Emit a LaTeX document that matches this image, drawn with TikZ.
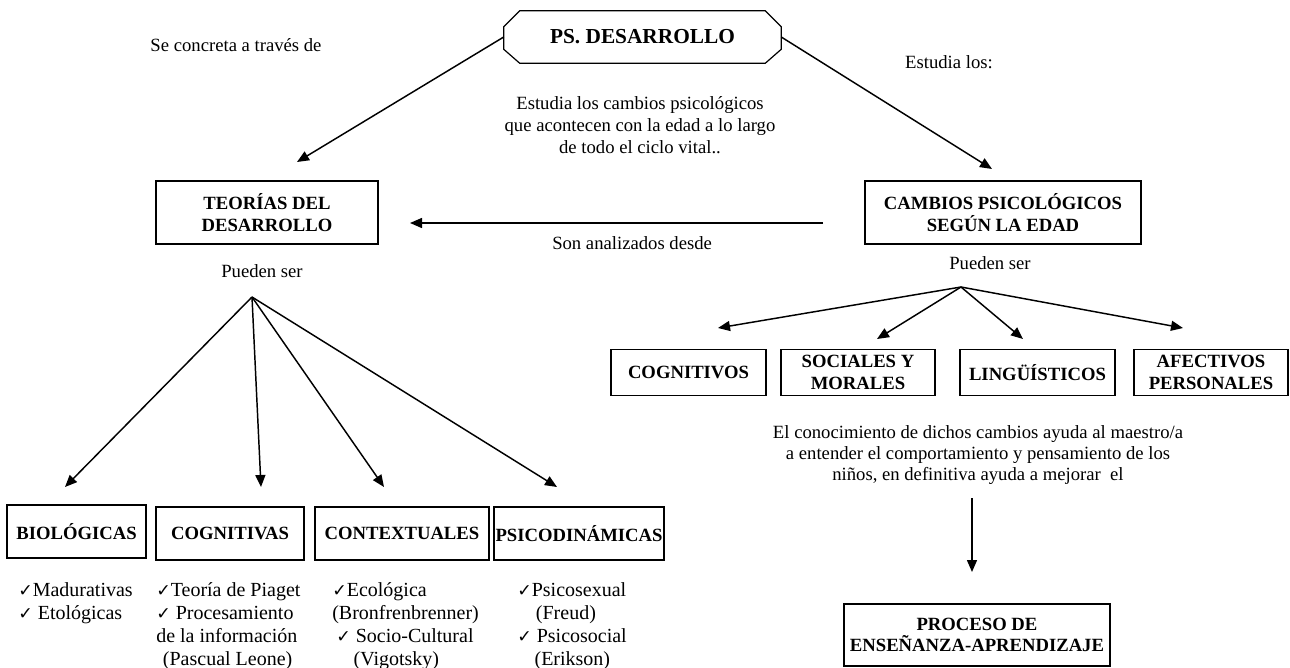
\documentclass[tikz,border=0pt]{standalone}
\usepackage{fontspec}
\setmainfont{Liberation Serif}
\newfontfamily\ckfont{DejaVu Sans}
\usetikzlibrary{arrows.meta,calc}
\newcommand{\ck}{{\ckfont\fontsize{13}{13}\selectfont ✓}}
\begin{document}
\begin{tikzpicture}[x=0.75pt,y=-0.75pt,
  wh/.style 2 args={minimum width=#1*0.75pt, minimum height=#2*0.75pt},
  box/.style={draw,line width=0.9pt,inner sep=0pt,align=center,font=\fontsize{14}{16}\selectfont\bfseries},
  lbl/.style={inner sep=0pt,align=center,font=\fontsize{14}{16.5}\selectfont},
  lst/.style={inner sep=0pt,align=left,anchor=north west,font=\fontsize{15}{17.25}\selectfont},
  arr/.style={line width=1.1pt,-{Triangle[length=9pt,width=7.5pt]}}]
\useasboundingbox (0,0) rectangle (1290,668);
\fill[white] (0,0) rectangle (1290,668);

% title
\node[inner sep=0pt, wh={277}{52}, font=\fontsize{16}{18}\selectfont\bfseries] (ps) at (642.5,37) {PS. DESARROLLO};
\draw[line width=0.9pt] ($(ps.north west)+(16,0)$) -- ($(ps.north east)+(-16,0)$) -- ($(ps.north east)+(0,16)$) -- ($(ps.south east)+(0,-14)$) -- ($(ps.south east)+(-16,0)$) -- ($(ps.south west)+(16,0)$) -- ($(ps.south west)+(0,-14)$) -- ($(ps.north west)+(0,16)$) -- cycle;

% labels
\node[lbl] (se) at (236,45) {Se concreta a través de};
\node[lbl] (est) at (949,62) {Estudia los:};
\node[lbl] (mid) at (640,125) {Estudia los cambios psicológicos\\que acontecen con la edad a lo largo\\de todo el ciclo vital..};
\node[lbl, anchor=west] (son) at (552,243) {Son analizados desde};
\node[lbl] (pL) at (262,271) {Pueden ser};
\node[lbl] (pR) at (990,263) {Pueden ser};

% main boxes
\node[box, wh={222}{63}] (teo) at (267,212.5) {TEORÍAS DEL\\DESARROLLO};
\node[box, wh={276}{63}] (cam) at (1003,212.5) {CAMBIOS PSICOLÓGICOS\\SEGÚN LA EDAD};

% top arrows
\coordinate (tTeo) at (297,162);
\coordinate (tCam) at (992,169);
\draw[arr] (ps.west) -- (tTeo);
\draw[arr] (ps.east) -- (tCam);
\coordinate (hA) at (823,223);
\coordinate (hB) at (410,223);
\draw[arr] (hA) -- (hB);

% right row
\node[box, wh={155}{46}] (cgv) at (688.5,372.5) {COGNITIVOS};
\node[box, wh={154}{46}] (soc) at (858,372.5) {SOCIALES Y\\MORALES};
\node[box, wh={155}{46}] (lin) at (1037.5,372.5) {LINGÜÍSTICOS};
\node[box, wh={154}{46}] (afe) at (1211,372.5) {AFECTIVOS\\PERSONALES};
\coordinate (aR) at (961,287);
\coordinate (tR1) at (718,328);
\coordinate (tR2) at (877,339);
\coordinate (tR3) at (1023,339);
\coordinate (tR4) at (1183,328);
\draw[arr] (aR) -- (tR1);
\draw[arr] (aR) -- (tR2);
\draw[arr] (aR) -- (tR3);
\draw[arr] (aR) -- (tR4);

% left row
\node[box, wh={139}{53}] (bio) at (76.5,531.5) {BIOLÓGICAS};
\node[box, wh={148}{53}] (cgl) at (230,533.5) {COGNITIVAS};
\node[box, wh={174}{53}] (cnt) at (402,533.5) {CONTEXTUALES};
\node[box, wh={170}{53}] (psi) at (579,533.5) {PSICODINÁMICAS};
\coordinate (aL) at (252,297);
\coordinate (tL1) at (65,487);
\coordinate (tL2) at (261,487);
\coordinate (tL3) at (384,487);
\coordinate (tL4) at (557,487);
\draw[arr] (aL) -- (tL1);
\draw[arr] (aL) -- (tL2);
\draw[arr] (aL) -- (tL3);
\draw[arr] (aL) -- (tL4);

% lists
\node[lst] (lbio) at (18,582) {\ck Madurativas\\\ck\ Etológicas};
\node[lst] (lcog) at (156,582) {\ck Teoría de Piaget\\\ck\ Procesamiento\\de la información\\\hspace*{5pt}(Pascual Leone)};
\node[lst] (lcon) at (332,582) {\ck Ecológica\\(Bronfrenbrenner)\\\hspace*{3pt}\ck\ Socio-Cultural\\\hspace*{16pt}(Vigotsky)};
\node[lst] (lpsi) at (517,582) {\ck Psicosexual\\\hspace*{14pt}(Freud)\\\ck\ Psicosocial\\\hspace*{13pt}(Erikson)};

% bottom right
\node[lbl, font=\fontsize{14}{15.75}\selectfont] (conoc) at (978,455) {El conocimiento de dichos cambios ayuda al maestro/a\\a entender el comportamiento y pensamiento de los\\niños, en definitiva ayuda a mejorar\ \ el};
\coordinate (vA) at (972,498);
\coordinate (vB) at (972,572);
\draw[arr] (vA) -- (vB);
\node[box, wh={266}{62}] (proc) at (977,635) {PROCESO DE\\ENSEÑANZA-APRENDIZAJE};
\end{tikzpicture}
\end{document}
